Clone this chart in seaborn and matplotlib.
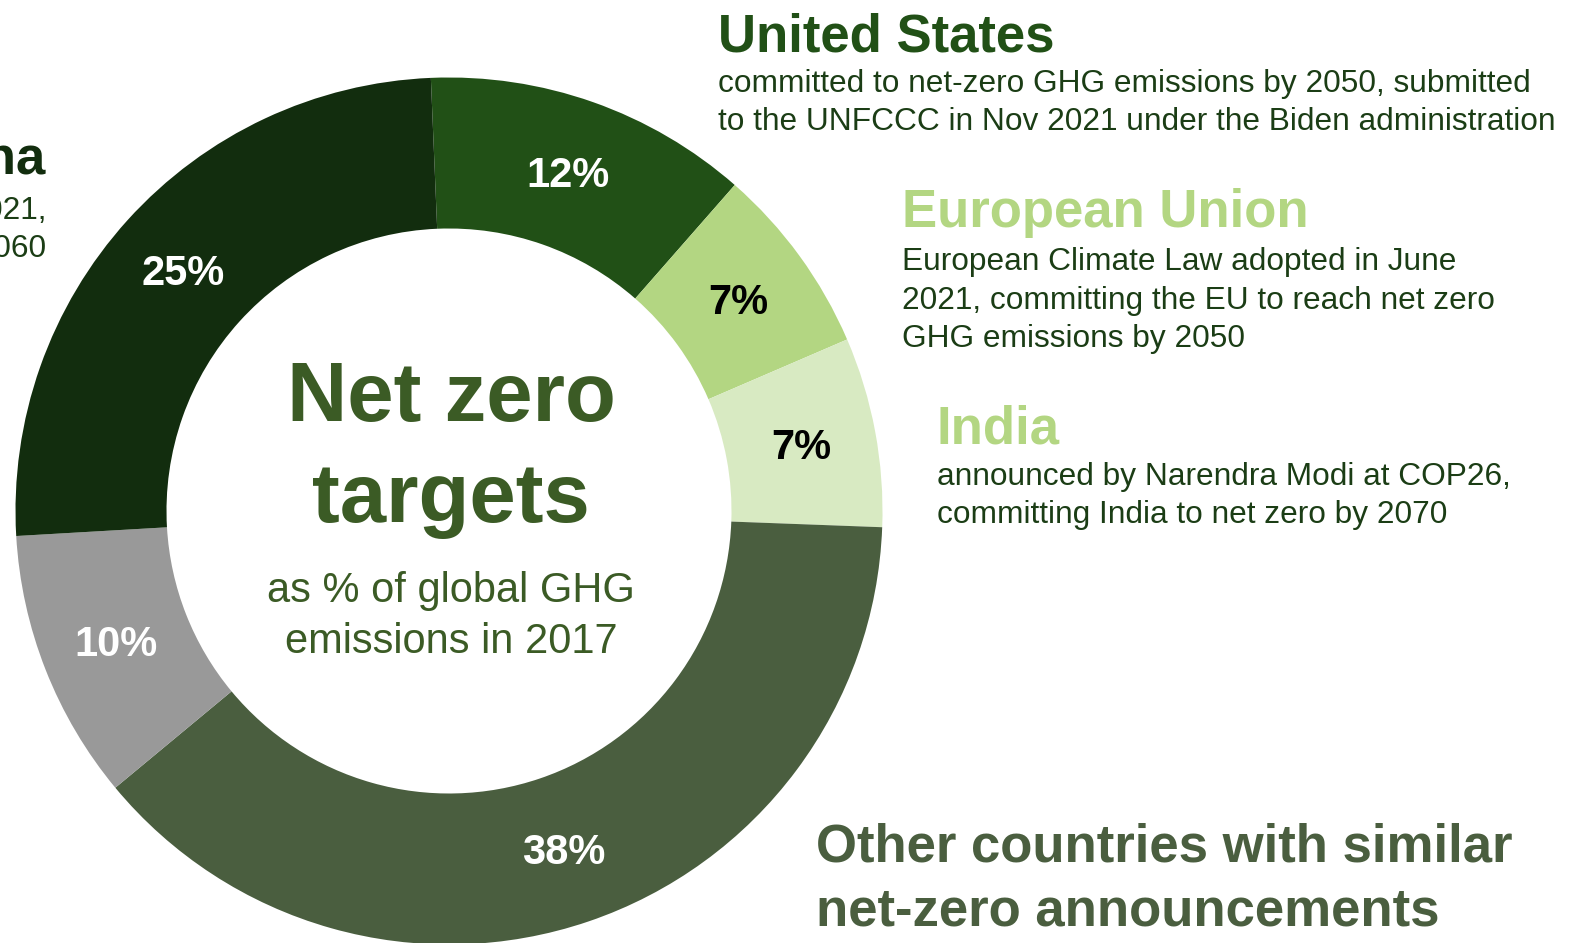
import seaborn as sns
from matplotlib import pyplot as plt

# shares of 2017 global GHG emissions covered by net-zero targets (%)
regions = ["United States", "European Union", "India", "Other", "Not covered", "China"]
shares = [12, 7, 7, 38, 10, 25]
colors = ["#215016", "#b3d682", "#d8eac2", "#4a5e3f", "#999999", "#122d0e"]
pct_colors = ["white", "black", "black", "white", "white", "white"]

us_desc = ["committed to net-zero GHG emissions by 2050, submitted",
           "to the UNFCCC in Nov 2021 under the Biden administration"]
eu_desc = ["European Climate Law adopted in June",
           "2021, committing the EU to reach net zero",
           "GHG emissions by 2050"]
india_desc = ["announced by Narendra Modi at COP26,",
              "committing India to net zero by 2070"]
china_desc = ["NDC submitted to the UNFCCC in Oct 2021,",
              "committing China to carbon neutrality by 2060"]
other_title = ["Other countries with similar", "net-zero announcements"]

W, H = 1590, 943

sns.set_style("white")
plt.rcParams['font.family'] = ['Liberation Sans', 'DejaVu Sans']

fig = plt.figure(figsize=(W / 100, H / 100), dpi=100)
ax = fig.add_axes([0, 0, 1, 1])

def y(px):
  # pixel row from the top -> data y
  return H - px

wedges, texts, autotexts = ax.pie(
  shares, colors=colors, center=(449, y(511)), radius=433.5,
  startangle=92.4, counterclock=False,
  wedgeprops=dict(width=151, linewidth=0),
  autopct="%.0f%%", pctdistance=0.826,
  textprops=dict(fontsize=30, fontweight="bold"))
for t, c in zip(autotexts, pct_colors):
  t.set_color(c)
  tx, ty = t.get_position()
  t.set_position((tx, ty - 3))

ax.set_xlim(0, W)
ax.set_ylim(0, H)
ax.set_aspect("equal")
ax.axis("off")

# centre text
center_col = "#3b5b25"
ax.text(451, y(421), "Net zero", ha="center", va="baseline", fontsize=60,
        fontweight="bold", color=center_col)
ax.text(451, y(522), "targets", ha="center", va="baseline", fontsize=60,
        fontweight="bold", color=center_col)
ax.text(451, y(602), "as % of global GHG", ha="center", va="baseline",
        fontsize=30, color=center_col)
ax.text(451, y(653), "emissions in 2017", ha="center", va="baseline",
        fontsize=30, color=center_col)

desc_col = "#1b3d15"

def block(x, title_base, title, title_col, lines, first_base, step=38.5, ha="left"):
  ax.text(x, y(title_base), title, ha=ha, va="baseline", fontsize=38,
          fontweight="bold", color=title_col)
  for i, line in enumerate(lines):
    ax.text(x, y(first_base + i * step), line, ha=ha, va="baseline",
            fontsize=22.8, color=desc_col)

block(718, 51, "United States", colors[0], us_desc, 92)
block(902, 227, "European Union", colors[1], eu_desc, 270)
block(937, 443, "India", colors[1], india_desc, 485)
block(46, 173, "China", colors[5], china_desc, 219, ha="right")

for i, line in enumerate(other_title):
  ax.text(816, y(861 + i * 64), line, ha="left", va="baseline", fontsize=38,
          fontweight="bold", color=colors[3])

fig.savefig("out.png", dpi=100)
